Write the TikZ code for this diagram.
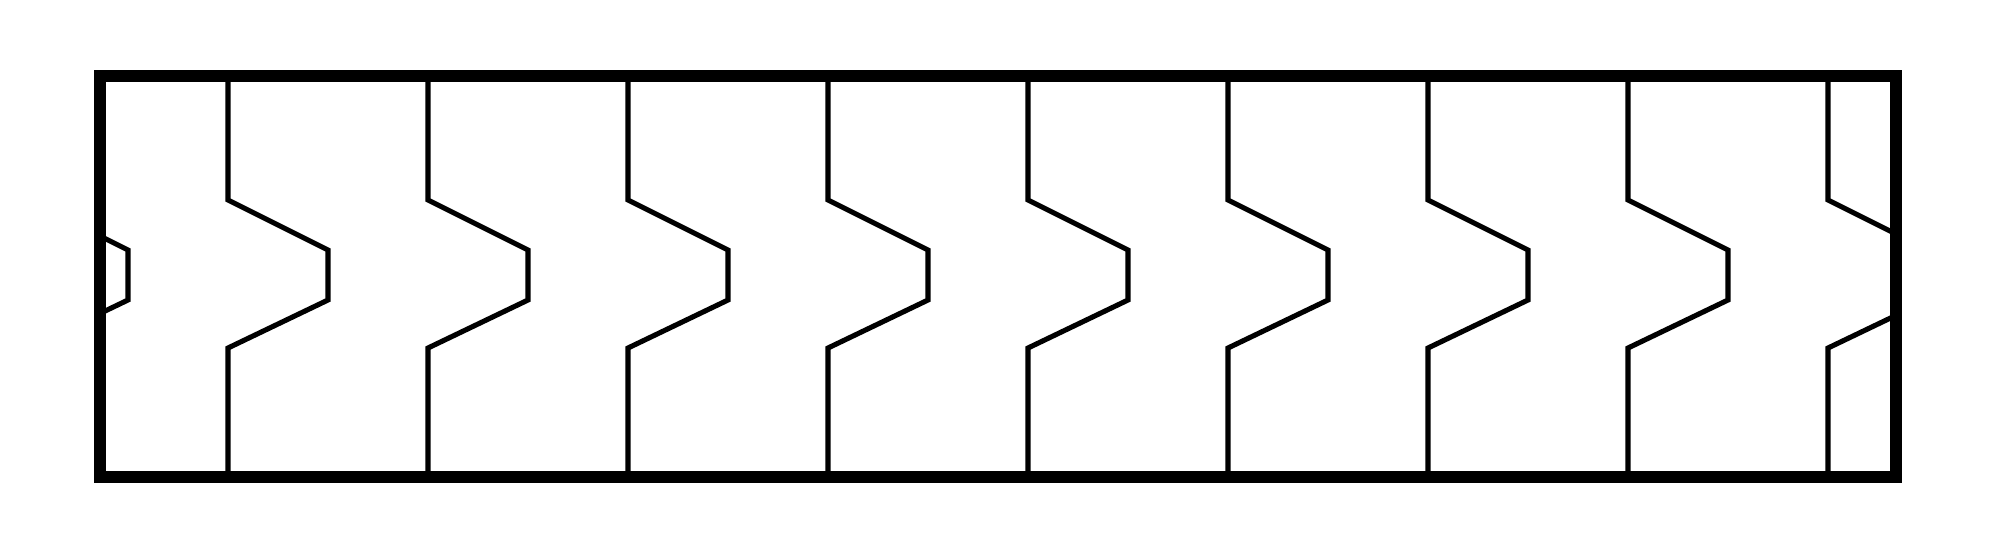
\documentclass[tikz,border=0pt]{standalone}
\usepackage{tikz}
\usetikzlibrary{calc}
\tikzset{
    frame/.style={draw=black, line width=3.5pt, line join=miter},
    zigwall/.style={draw=black, line width=1.45pt, line join=miter}
}

\begin{document}
\begin{tikzpicture}[x=1cm, y=1cm]

%% Page size -- 2007 x 559 px at 100 px per unit
\useasboundingbox (0, 0) rectangle (20.07, 5.59);

%% Frame corners (left / bottom, right / top)
\coordinate (bl) at (1.00, 0.82);
\coordinate (tr) at (18.96, 4.83);

%% Zigzag walls -- one every 2 units, clipped by the frame
\begin{scope}
    \clip (bl) rectangle (tr);
    \foreach \xk in {0.28, 2.28, 4.28, 6.28, 8.28, 10.28, 12.28, 14.28, 16.28, 18.28} {
        \draw[zigwall] (\xk, 4.83) -- (\xk, 3.59) -- (\xk+1.00, 3.09)
            -- (\xk+1.00, 2.59) -- (\xk, 2.11) -- (\xk, 0.82);
    }
\end{scope}

%% Outer frame
\draw[frame] (bl) rectangle (tr);

\end{tikzpicture}
\end{document}
